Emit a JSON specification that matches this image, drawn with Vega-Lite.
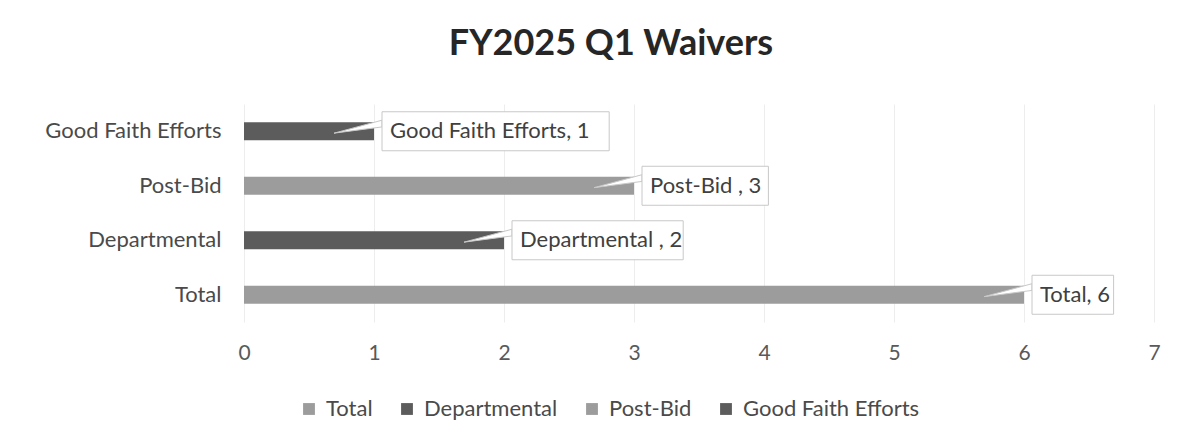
{
  "$schema": "https://vega.github.io/schema/vega-lite/v6.json",
  "width": 910,
  "height": 218,
  "autosize": "none",
  "padding": {"left": 244, "top": 104, "right": 42, "bottom": 124},
  "background": "white",
  "config": {"view": {"stroke": null}},
  "title": {
    "text": "FY2025 Q1 Waivers",
    "fontSize": 36,
    "fontWeight": "bold",
    "font": "Lato",
    "color": "#262626",
    "anchor": "middle",
    "dx": -88,
    "offset": 41
  },
  "data": {
    "values": [
      {"category": "Total", "value": 6, "label": "Total, 6"},
      {"category": "Departmental", "value": 2, "label": "Departmental , 2"},
      {"category": "Post-Bid", "value": 3, "label": "Post-Bid , 3"},
      {"category": "Good Faith Efforts", "value": 1, "label": "Good Faith Efforts, 1"}
    ]
  },
  "encoding": {
    "y": {
      "field": "category",
      "type": "nominal",
      "sort": ["Good Faith Efforts", "Post-Bid", "Departmental", "Total"],
      "scale": {"paddingInner": 0, "paddingOuter": 0},
      "axis": {
        "title": null,
        "domain": false,
        "ticks": false,
        "labelFont": "Lato",
        "labelFontSize": 22,
        "labelColor": "#4a4a4a",
        "labelPadding": 23
      }
    }
  },
  "layer": [
    {
      "mark": {"type": "bar", "height": 18},
      "encoding": {
        "x": {
          "field": "value",
          "type": "quantitative",
          "scale": {"domain": [0, 7], "nice": false},
          "axis": {
            "title": null,
            "values": [0, 1, 2, 3, 4, 5, 6, 7],
            "format": "d",
            "labelOverlap": false,
            "labelFlush": false,
            "domain": false,
            "ticks": false,
            "grid": true,
            "gridColor": "#ededed",
            "labelFont": "Lato",
            "labelFontSize": 21,
            "labelColor": "#595959",
            "labelPadding": 20
          }
        },
        "color": {
          "field": "category",
          "type": "nominal",
          "scale": {
            "domain": ["Total", "Departmental", "Post-Bid", "Good Faith Efforts"],
            "range": ["#9c9c9c", "#5c5c5c", "#9c9c9c", "#5c5c5c"]
          },
          "legend": {
            "title": null,
            "orient": "none",
            "direction": "horizontal",
            "columns": 4,
            "legendX": 54,
            "legendY": 294,
            "symbolType": "square",
            "symbolSize": 140,
            "symbolStrokeWidth": 0,
            "labelFont": "Lato",
            "labelFontSize": 22,
            "labelColor": "#4a4a4a",
            "labelLimit": 0,
            "columnPadding": 23,
            "labelOffset": 6
          }
        }
      }
    },
    {
      "mark": {
        "type": "point",
        "shape": "M-1,0.08L1,-0.46L1,-0.18Z",
        "size": 2304,
        "filled": true,
        "fill": "white",
        "stroke": "#c8c8c8",
        "strokeWidth": 1,
        "opacity": 1,
        "xOffset": -16
      },
      "encoding": {
        "x": {"field": "value", "type": "quantitative"}
      }
    },
    {
      "transform": [
        {"calculate": "datum.value + (11.2 * length(datum.label)) / 130", "as": "boxEnd"}
      ],
      "mark": {"type": "bar", "height": 39, "fill": "white", "stroke": "#c8c8c8", "strokeWidth": 1, "xOffset": 8},
      "encoding": {
        "x": {"field": "value", "type": "quantitative"},
        "x2": {"field": "boxEnd"}
      }
    },
    {
      "mark": {"type": "text", "align": "left", "baseline": "middle", "dx": 16, "font": "Lato", "fontSize": 22, "color": "#404040"},
      "encoding": {
        "x": {"field": "value", "type": "quantitative"},
        "text": {"field": "label"}
      }
    }
  ]
}
